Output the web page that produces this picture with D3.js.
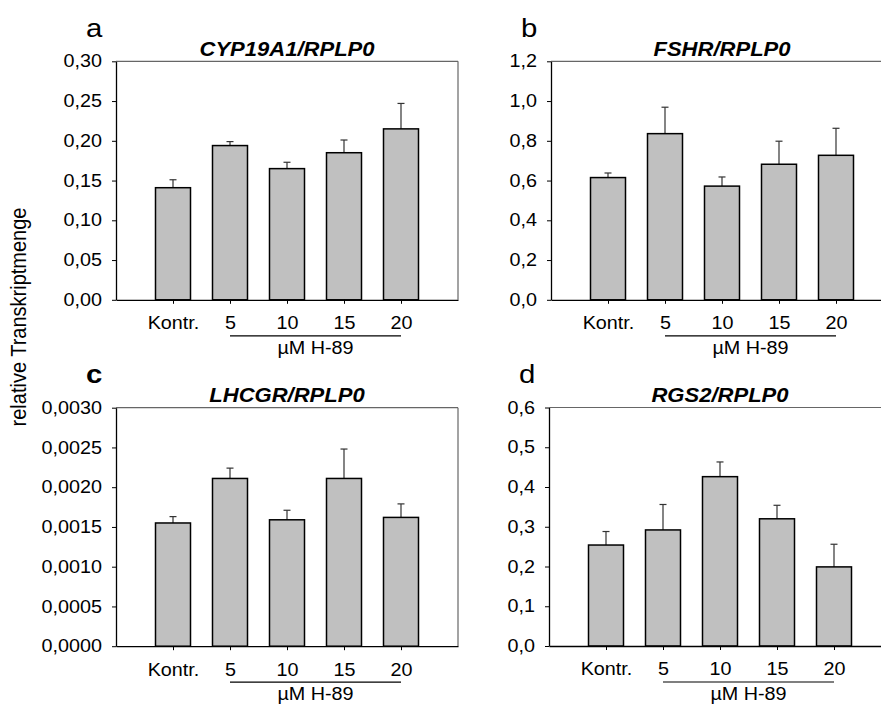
<!DOCTYPE html>
<html>
<head>
<meta charset="utf-8">
<script src="https://cdn.jsdelivr.net/npm/d3@7"></script>
<style>
  html, body { margin: 0; padding: 0; background: #fff; }
  svg { display: block; font-family: "Liberation Sans", Arial, sans-serif; }
</style>
</head>
<body>
<div id="chart"></div>
<script>
// four bar panels, H-89 dose series, mean + upper SEM whisker
const categories = ['Kontr.', '5', '10', '15', '20'];

const cypMean = [0.141, 0.194, 0.165, 0.185, 0.215];
const cypErr = [0.010, 0.005, 0.008, 0.016, 0.032];
const cypTicks = [0, 0.05, 0.10, 0.15, 0.20, 0.25, 0.30];

const fshrMean = [0.615, 0.836, 0.572, 0.682, 0.727];
const fshrErr = [0.023, 0.133, 0.046, 0.116, 0.136];
const fshrTicks = [0, 0.2, 0.4, 0.6, 0.8, 1.0, 1.2];

const lhcgrMean = [0.00155, 0.00211, 0.00159, 0.00211, 0.00162];
const lhcgrErr = [0.00008, 0.00013, 0.00012, 0.00037, 0.00017];
const lhcgrTicks = [0, 0.0005, 0.0010, 0.0015, 0.0020, 0.0025, 0.0030];

const rgs2Mean = [0.254, 0.292, 0.426, 0.320, 0.199];
const rgs2Err = [0.034, 0.064, 0.037, 0.034, 0.057];
const rgs2Ticks = [0, 0.1, 0.2, 0.3, 0.4, 0.5, 0.6];

const doseLabel = 'µM H-89';
const yLabel = 'relative Transkriptmenge';

const de = d3.formatLocale({ decimal: ',', thousands: '.', grouping: [3], currency: ['', '€'] });
const SX = 1.13; // source picture is a bit wider than tall

const panels = [
  { letter: 'a', title: 'CYP19A1/RPLP0', mean: cypMean, err: cypErr, ticks: cypTicks, fmt: de.format('.2f'), l: 116, t: 61.3, bold: false },
  { letter: 'b', title: 'FSHR/RPLP0', mean: fshrMean, err: fshrErr, ticks: fshrTicks, fmt: de.format('.1f'), l: 551, t: 61.3, bold: false },
  { letter: 'c', title: 'LHCGR/RPLP0', mean: lhcgrMean, err: lhcgrErr, ticks: lhcgrTicks, fmt: de.format('.4f'), l: 116, t: 407.7, bold: true },
  { letter: 'd', title: 'RGS2/RPLP0', mean: rgs2Mean, err: rgs2Err, ticks: rgs2Ticks, fmt: de.format('.1f'), l: 549, t: 407.5, bold: false }
];
const W = 342, H = 238.5;

const svg = d3.select('#chart').append('svg').attr('width', 881).attr('height', 707);

function txt(g, x, y, s, size, anchor = 'start') {
  return g.append('text')
    .attr('transform', `translate(${x},${y}) scale(${SX},1)`)
    .attr('text-anchor', anchor)
    .attr('font-size', size)
    .attr('fill', '#000')
    .text(s);
}

panels.forEach(p => {
  const g = svg.append('g');
  const x = d3.scaleLinear().domain([0, 6]).range([p.l, p.l + W]);
  const y = d3.scaleLinear().domain([p.ticks[0], p.ticks[p.ticks.length - 1]]).range([p.t + H, p.t]);
  const bottom = p.t + H;
  const bw = 35;

  // frame top/right
  g.append('line').attr('x1', p.l).attr('x2', p.l + W).attr('y1', p.t).attr('y2', p.t)
    .attr('stroke', '#666').attr('stroke-width', 1.2);
  g.append('line').attr('x1', p.l + W).attr('x2', p.l + W).attr('y1', p.t).attr('y2', bottom)
    .attr('stroke', '#666').attr('stroke-width', 1.2);

  // error whiskers (upper only), drawn under the bars
  const idx = d3.range(categories.length);
  g.selectAll('.eb').data(idx).join('line')
    .attr('x1', i => x(i + 1)).attr('x2', i => x(i + 1))
    .attr('y1', i => y(p.mean[i])).attr('y2', i => y(p.mean[i] + p.err[i]))
    .attr('stroke', '#333').attr('stroke-width', 1.2);
  g.selectAll('.cap').data(idx).join('line')
    .attr('x1', i => x(i + 1) - 3.5).attr('x2', i => x(i + 1) + 3.5)
    .attr('y1', i => y(p.mean[i] + p.err[i])).attr('y2', i => y(p.mean[i] + p.err[i]))
    .attr('stroke', '#333').attr('stroke-width', 1.2);

  g.selectAll('rect').data(idx).join('rect')
    .attr('x', i => x(i + 1) - bw / 2).attr('width', bw)
    .attr('y', i => y(p.mean[i])).attr('height', i => bottom - y(p.mean[i]))
    .attr('fill', '#c0c0c0').attr('stroke', '#000').attr('stroke-width', 1.5);

  // axes
  const ya = g.append('g').attr('transform', `translate(${p.l},0)`)
    .call(d3.axisLeft(y).tickValues(p.ticks).tickFormat(p.fmt).tickSize(4).tickPadding(8.5).tickSizeOuter(0));
  const xa = g.append('g').attr('transform', `translate(0,${bottom})`)
    .call(d3.axisBottom(x).tickValues([1, 2, 3, 4, 5]).tickFormat(d => categories[d - 1]).tickSize(4).tickPadding(13).tickSizeOuter(0));
  [ya, xa].forEach(a => {
    a.attr('font-family', null);
    a.select('.domain').attr('stroke', '#000').attr('stroke-width', 1.3);
    a.selectAll('.tick line').attr('stroke', '#000');
    a.selectAll('.tick text').attr('font-size', 17.5).attr('fill', '#000')
      .attr('transform', `scale(${SX},1)`);
  });

  // dose bracket
  g.append('line').attr('x1', x(2)).attr('x2', x(5)).attr('y1', bottom + 36).attr('y2', bottom + 36)
    .attr('stroke', '#000').attr('stroke-width', 1.2);
  txt(g, (x(2) + x(5)) / 2, bottom + 54, doseLabel, 17.5, 'middle');

  // title and panel letter
  txt(g, p.l + W / 2, p.t - 5.5, p.title, 19.5, 'middle')
    .attr('font-weight', 'bold').attr('font-style', 'italic');
  txt(g, p.l - 30, p.t - 24.5, p.letter, 26).attr('font-weight', p.bold ? 'bold' : null);
});

svg.append('text')
  .attr('transform', `translate(26,317) scale(${SX},1) rotate(-90)`)
  .attr('text-anchor', 'middle').attr('font-size', 20).attr('fill', '#000')
  .text(yLabel);
</script>
</body>
</html>
